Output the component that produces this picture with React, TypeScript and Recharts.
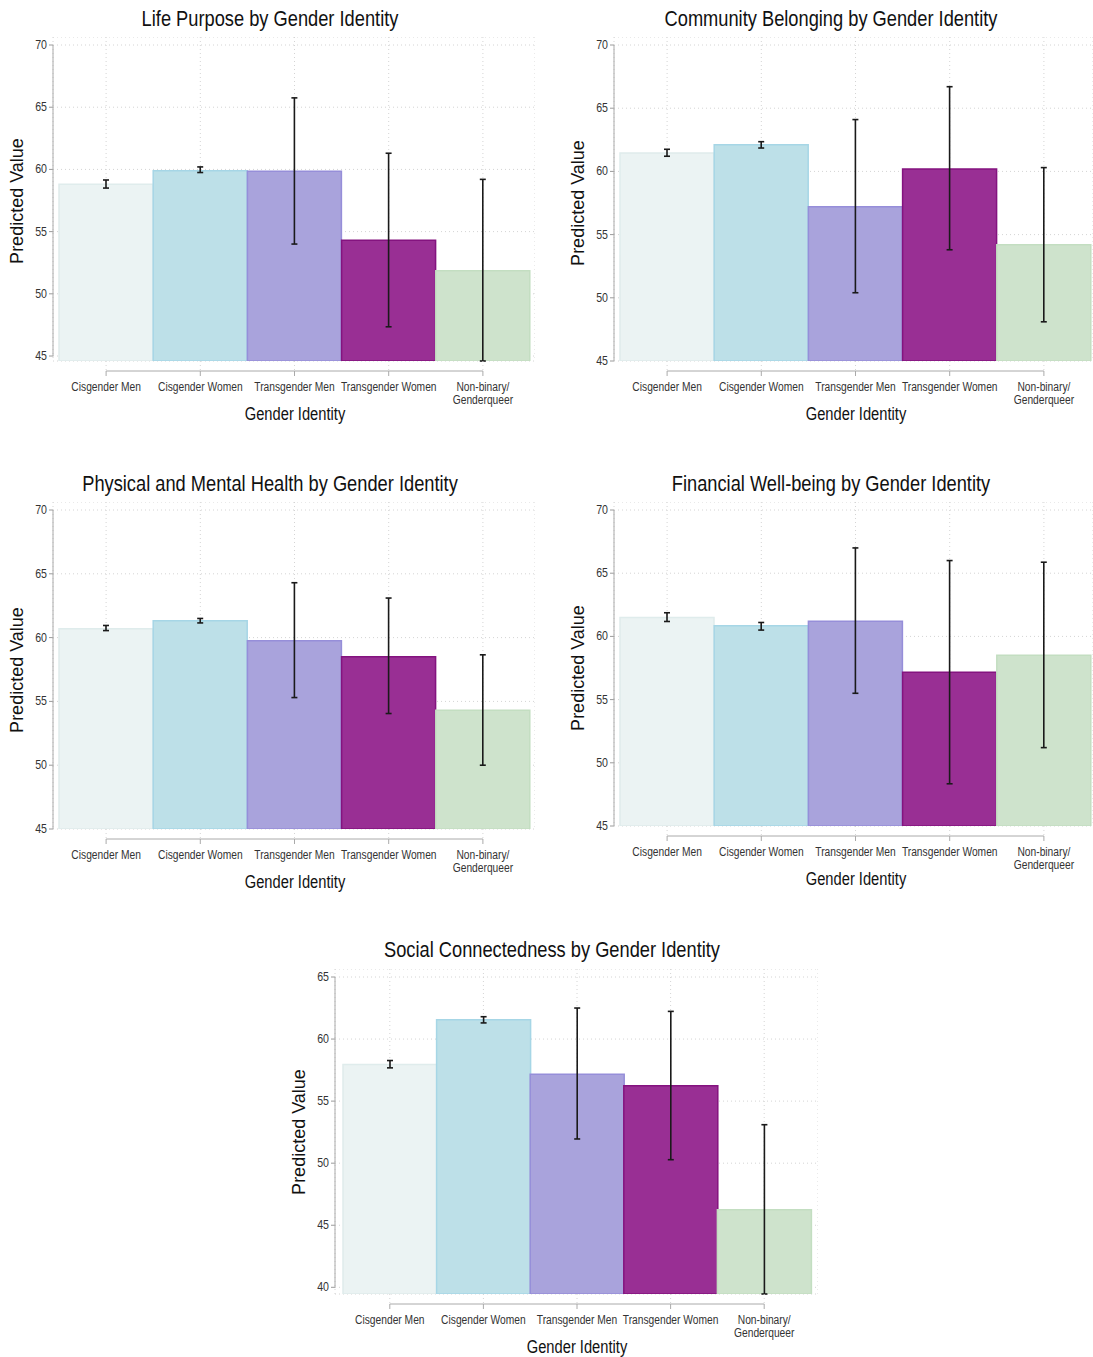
import { BarChart, Bar, XAxis, YAxis, CartesianGrid, ErrorBar, Cell } from "recharts";

const categories = [
  "Cisgender Men",
  "Cisgender Women",
  "Transgender Men",
  "Transgender Women",
  "Non-binary/\nGenderqueer",
];

// predicted values and confidence limits
const lifePurposeValues = [58.8, 59.9, 59.85, 54.3, 51.85];
const lifePurposeLow = [58.5, 59.75, 54.0, 47.35, 44.6];
const lifePurposeHigh = [59.15, 60.2, 65.75, 61.3, 59.2];

const communityValues = [61.45, 62.1, 57.2, 60.18, 54.2];
const communityLow = [61.2, 61.85, 50.4, 53.8, 48.1];
const communityHigh = [61.75, 62.35, 64.1, 66.7, 60.3];

const healthValues = [60.7, 61.33, 59.75, 58.5, 54.3];
const healthLow = [60.55, 61.15, 55.3, 54.05, 50.0];
const healthHigh = [60.95, 61.5, 64.3, 63.1, 58.65];

const financialValues = [61.5, 60.84, 61.2, 57.16, 58.5];
const financialLow = [61.18, 60.5, 55.5, 48.34, 51.2];
const financialHigh = [61.87, 61.1, 67.0, 66.0, 65.87];

const socialValues = [57.95, 61.55, 57.17, 56.23, 46.24];
const socialLow = [57.68, 61.3, 51.95, 50.28, 39.46];
const socialHigh = [58.27, 61.8, 62.5, 62.23, 53.1];

const ticks45to70 = [45, 50, 55, 60, 65, 70];
const ticks40to65 = [40, 45, 50, 55, 60, 65];

const fills = ["#ebf3f3", "#bde0e8", "#a9a3dc", "#992f94", "#cee3cc"];
const strokes = ["#dfecec", "#a6d6e6", "#968ed9", "#84137f", "#c3dec1"];

// no narrow font installed, so squeeze Liberation Sans horizontally
const SANS = "'Liberation Sans', Arial, sans-serif";
const YW = 40; // y axis width
const XH = 70; // x axis height

type PanelProps = {
  title: string;
  values: number[];
  low: number[];
  high: number[];
  ticks: number[];
  base: number; // value at bar base
  yTop: number; // page y of the top tick
  yBase: number; // page y of the bar base
  axisX: number;
  barsLeft: number;
  barsRight: number;
  gridRight: number;
  titleCx: number;
  titleCy: number;
};

function Panel(p: PanelProps) {
  const tickMin = p.ticks[0];
  const tickMax = p.ticks[p.ticks.length - 1];
  const ppu = (p.yBase - p.yTop) / (tickMax - p.base);
  const domainTop = tickMax + 8 / ppu;
  const plotH = p.yBase - p.yTop + 8;
  const band = (p.barsRight - p.barsLeft) / categories.length;
  const chartW = YW + (p.gridRight - p.axisX);

  const data = categories.map((name, i) => ({
    name,
    value: p.values[i],
    err: [p.values[i] - p.low[i], p.high[i] - p.values[i]],
  }));

  const YTick = (props: any) => {
    const { y, payload } = props;
    const v = payload.value;
    return (
      <g>
        <line x1={YW - 4} x2={YW} y1={y} y2={y} stroke="#9a9a9a" />
        <text
          transform={`translate(${YW - 6},${y + 4}) scale(0.85,1)`}
          textAnchor="end"
          fontSize={12.5}
          fontFamily={SANS}
          fill="#333"
        >
          {v}
        </text>
        {v === tickMax && (
          <line x1={YW} x2={YW} y1={y} y2={y + (tickMax - tickMin) * ppu} stroke="#aaaaaa" />
        )}
      </g>
    );
  };

  const XTick = (props: any) => {
    const { x, index, payload } = props;
    const lines = String(payload.value).split("\n");
    const ay = plotH + 10;
    return (
      <g>
        <line x1={x} x2={x} y1={plotH} y2={ay} stroke="#d4d4d4" strokeDasharray="1 3" />
        {index < categories.length - 1 && <line x1={x} x2={x + band} y1={ay} y2={ay} stroke="#aaaaaa" />}
        <line x1={x} x2={x} y1={ay} y2={ay + 5} stroke="#aaaaaa" />
        {lines.map((l, k) => (
          <text
            key={k}
            transform={`translate(${x},${plotH + 30 + k * 13}) scale(0.82,1)`}
            textAnchor="middle"
            fontSize={12.5}
            fontFamily={SANS}
            fill="#333"
          >
            {l}
          </text>
        ))}
      </g>
    );
  };

  return (
    <>
      <div
        style={{
          position: "absolute",
          left: p.titleCx,
          top: p.titleCy,
          transform: "translate(-50%, -50%) scaleX(0.83)",
          fontFamily: SANS,
          fontSize: 22,
          whiteSpace: "nowrap",
          color: "#111",
        }}
      >
        {p.title}
      </div>
      <div
        style={{
          position: "absolute",
          left: p.axisX - 36,
          top: (p.yTop + p.yTop + (tickMax - tickMin) * ppu) / 2,
          transform: "translate(-50%, -50%) rotate(-90deg)",
          fontFamily: SANS,
          fontSize: 18,
          whiteSpace: "nowrap",
          color: "#111",
        }}
      >
        Predicted Value
      </div>
      <div
        style={{
          position: "absolute",
          left: (p.barsLeft + p.barsRight) / 2,
          top: p.yBase + 53,
          transform: "translate(-50%, -50%) scaleX(0.84)",
          fontFamily: SANS,
          fontSize: 17.5,
          whiteSpace: "nowrap",
          color: "#111",
        }}
      >
        Gender Identity
      </div>
      <div style={{ position: "absolute", left: p.axisX - YW, top: p.yTop - 8 }}>
        <BarChart
          width={chartW}
          height={plotH + XH}
          data={data}
          margin={{ top: 0, right: 0, bottom: 0, left: 0 }}
          barCategoryGap={0}
        >
          <CartesianGrid stroke="#d4d4d4" strokeDasharray="1 3" />
          <XAxis
            dataKey="name"
            interval={0}
            height={XH}
            axisLine={false}
            tickLine={false}
            tick={XTick}
            padding={{ left: p.barsLeft - p.axisX, right: p.gridRight - p.barsRight }}
          />
          <YAxis
            type="number"
            width={YW}
            domain={[p.base, domainTop]}
            ticks={p.ticks}
            interval={0}
            allowDataOverflow
            axisLine={false}
            tickLine={false}
            tick={YTick}
          />
          <Bar dataKey="value" isAnimationActive={false} strokeWidth={1.5}>
            {data.map((_, i) => (
              <Cell key={i} fill={fills[i]} stroke={strokes[i]} />
            ))}
            <ErrorBar dataKey="err" width={3} stroke="#1a1a1a" strokeWidth={1.6} isAnimationActive={false} />
          </Bar>
        </BarChart>
      </div>
    </>
  );
}

export default function App() {
  return (
    <div
      style={{
        position: "absolute",
        left: 0,
        top: 0,
        width: 1093,
        height: 1357,
        background: "#fff",
        overflow: "hidden",
      }}
    >
      <Panel
        title="Life Purpose by Gender Identity"
        values={lifePurposeValues}
        low={lifePurposeLow}
        high={lifePurposeHigh}
        ticks={ticks45to70}
        base={44.6}
        yTop={45}
        yBase={361}
        axisX={53}
        barsLeft={59}
        barsRight={530}
        gridRight={535}
        titleCx={270}
        titleCy={19}
      />
      <Panel
        title="Community Belonging by Gender Identity"
        values={communityValues}
        low={communityLow}
        high={communityHigh}
        ticks={ticks45to70}
        base={45}
        yTop={45}
        yBase={361}
        axisX={614}
        barsLeft={620}
        barsRight={1091}
        gridRight={1093}
        titleCx={831}
        titleCy={19}
      />
      <Panel
        title="Physical and Mental Health by Gender Identity"
        values={healthValues}
        low={healthLow}
        high={healthHigh}
        ticks={ticks45to70}
        base={45}
        yTop={510}
        yBase={829}
        axisX={53}
        barsLeft={59}
        barsRight={530}
        gridRight={535}
        titleCx={270}
        titleCy={484}
      />
      <Panel
        title="Financial Well-being by Gender Identity"
        values={financialValues}
        low={financialLow}
        high={financialHigh}
        ticks={ticks45to70}
        base={45}
        yTop={510}
        yBase={826}
        axisX={614}
        barsLeft={620}
        barsRight={1091}
        gridRight={1093}
        titleCx={831}
        titleCy={484}
      />
      <Panel
        title="Social Connectedness by Gender Identity"
        values={socialValues}
        low={socialLow}
        high={socialHigh}
        ticks={ticks40to65}
        base={39.46}
        yTop={977}
        yBase={1294}
        axisX={335}
        barsLeft={343}
        barsRight={811}
        gridRight={818}
        titleCx={552}
        titleCy={950}
      />
    </div>
  );
}
